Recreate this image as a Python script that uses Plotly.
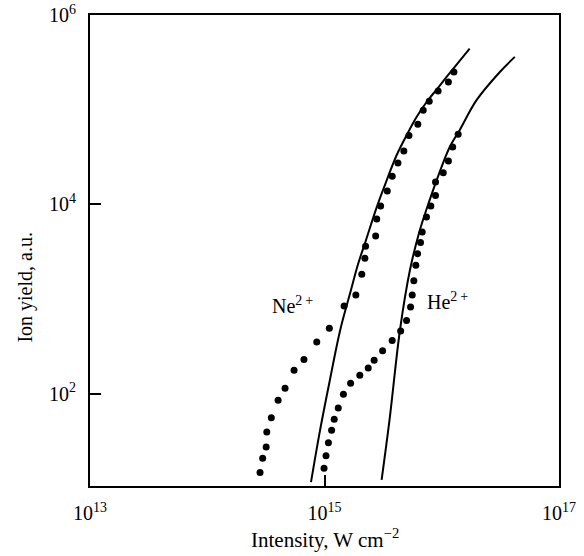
import plotly.graph_objects as go

# Ne2+ measured points (intensity W/cm^2, ion yield a.u.)
ne_dot_x = [2.82e14, 2.97e14, 3.18e14, 3.22e14, 3.52e14, 4.02e14, 4.61e14, 5.50e14, 6.68e14, 8.59e14,
            1.10e15, 1.47e15, 1.85e15, 2.08e15, 2.21e15, 2.24e15, 2.73e15, 2.79e15, 3.01e15, 3.43e15,
            3.78e15, 4.23e15, 4.75e15, 5.25e15, 6.25e15, 6.95e15, 7.82e15, 9.31e15, 1.14e16, 1.27e16]
ne_dot_y = [14.7, 20.7, 27.3, 39.3, 55.7, 84.9, 114, 177, 229, 351,
            490, 843, 1100, 1820, 2690, 3600, 4620, 7000, 9590, 13800,
            19800, 27300, 36600, 53200, 70000, 98400, 123000, 157000, 196000, 250000]

# Ne2+ theory curve
ne_line_x = [7.67e14, 9.16e14, 1.11e15, 1.36e15, 1.65e15, 1.94e15, 2.21e15, 2.79e15,
             3.39e15, 4.12e15, 5.01e15, 6.10e15, 7.43e15, 9.04e15, 1.13e16, 1.73e16]
ne_line_y = [11.6, 40.9, 138, 467, 1140, 2370, 3850, 9350,
             17900, 33000, 53600, 83600, 120500, 163000, 231000, 442000]

# He2+ measured points
he_dot_x = [9.91e14, 1.03e15, 1.08e15, 1.15e15, 1.21e15, 1.31e15, 1.45e15, 1.67e15, 2.00e15, 2.36e15,
            2.65e15, 3.13e15, 3.78e15, 4.46e15, 5.01e15, 5.42e15, 5.60e15, 5.78e15, 6.01e15, 6.22e15,
            6.59e15, 6.81e15, 7.41e15, 8.07e15, 8.85e15, 8.85e15, 1.03e16, 1.14e16, 1.24e16, 1.38e16]
he_dot_y = [16.3, 22.1, 30.3, 40.9, 53.5, 70.5, 98.4, 129, 156, 186,
            225, 284, 363, 458, 594, 822, 1100, 1560, 2270, 3010,
            3940, 5090, 7350, 9590, 12400, 17200, 21600, 28700, 40300, 55000]

# He2+ theory curve
he_line_x = [3.07e15, 3.61e15, 4.40e15, 5.35e15, 6.50e15, 7.43e15, 9.04e15, 1.17e16,
             1.43e16, 1.98e16, 3.13e16, 4.20e16]
he_line_y = [12.3, 56.6, 467, 2010, 5320, 8910, 17900, 40300,
             61500, 126000, 250000, 361000]

x_tick_vals = [1e13, 1e15, 1e17]
x_tick_text = ["10<sup>13</sup>", "10<sup>15</sup>", "10<sup>17</sup>"]
y_tick_vals = [1e2, 1e4, 1e6]
y_tick_text = ["10<sup>2</sup>", "10<sup>4</sup>", "10<sup>6</sup>"]

FONT = "Liberation Serif"

fig = go.Figure()
for lx, ly in [(ne_line_x, ne_line_y), (he_line_x, he_line_y)]:
    fig.add_trace(go.Scatter(x=lx, y=ly, mode="lines",
                             line=dict(color="black", width=2, shape="spline", smoothing=1.0),
                             showlegend=False, hoverinfo="skip"))
for dx, dy in [(ne_dot_x, ne_dot_y), (he_dot_x, he_dot_y)]:
    fig.add_trace(go.Scatter(x=dx, y=dy, mode="markers",
                             marker=dict(color="black", size=7, symbol="circle"),
                             showlegend=False))

fig.update_layout(
    width=584, height=556,
    margin=dict(l=89.7, r=24.7, t=15, b=70.3),
    paper_bgcolor="white", plot_bgcolor="white",
    font=dict(family=FONT, size=20, color="black"),
    xaxis=dict(type="log", range=[13, 17], tickvals=x_tick_vals, ticktext=x_tick_text,
               ticks="inside", ticklen=11, tickwidth=1.5, tickcolor="black",
               showline=True, linecolor="black", linewidth=2, mirror=True,
               showgrid=False, zeroline=False, ticklabelstandoff=8, automargin=False,
               tickfont=dict(family=FONT, size=20)),
    yaxis=dict(type="log", range=[1.024, 6], tickvals=y_tick_vals, ticktext=y_tick_text,
               ticks="inside", ticklen=11, tickwidth=1.5, tickcolor="black",
               showline=True, linecolor="black", linewidth=2, mirror=True,
               showgrid=False, zeroline=False, ticklabelstandoff=8, automargin=False,
               tickfont=dict(family=FONT, size=20)),
    annotations=[
        dict(x=14.723, y=2.933, xref="x", yref="y", text="Ne<sup>2\u2009+</sup>", showarrow=False,
             font=dict(size=20, family=FONT)),
        dict(x=16.052, y=2.98, xref="x", yref="y", text="He<sup>2\u2009+</sup>", showarrow=False,
             font=dict(size=20, family=FONT)),
        dict(x=0.5, y=-0.111, xref="paper", yref="paper", text="Intensity, W cm<sup>\u22122</sup>",
             showarrow=False, yanchor="middle", font=dict(size=21, family=FONT)),
        dict(x=-0.1378, y=0.422, xref="paper", yref="paper", text="Ion yield, a.u.",
             showarrow=False, textangle=-90, xanchor="center", yanchor="middle",
             font=dict(size=20, family=FONT)),
    ],
)

fig.write_html("out.html")
